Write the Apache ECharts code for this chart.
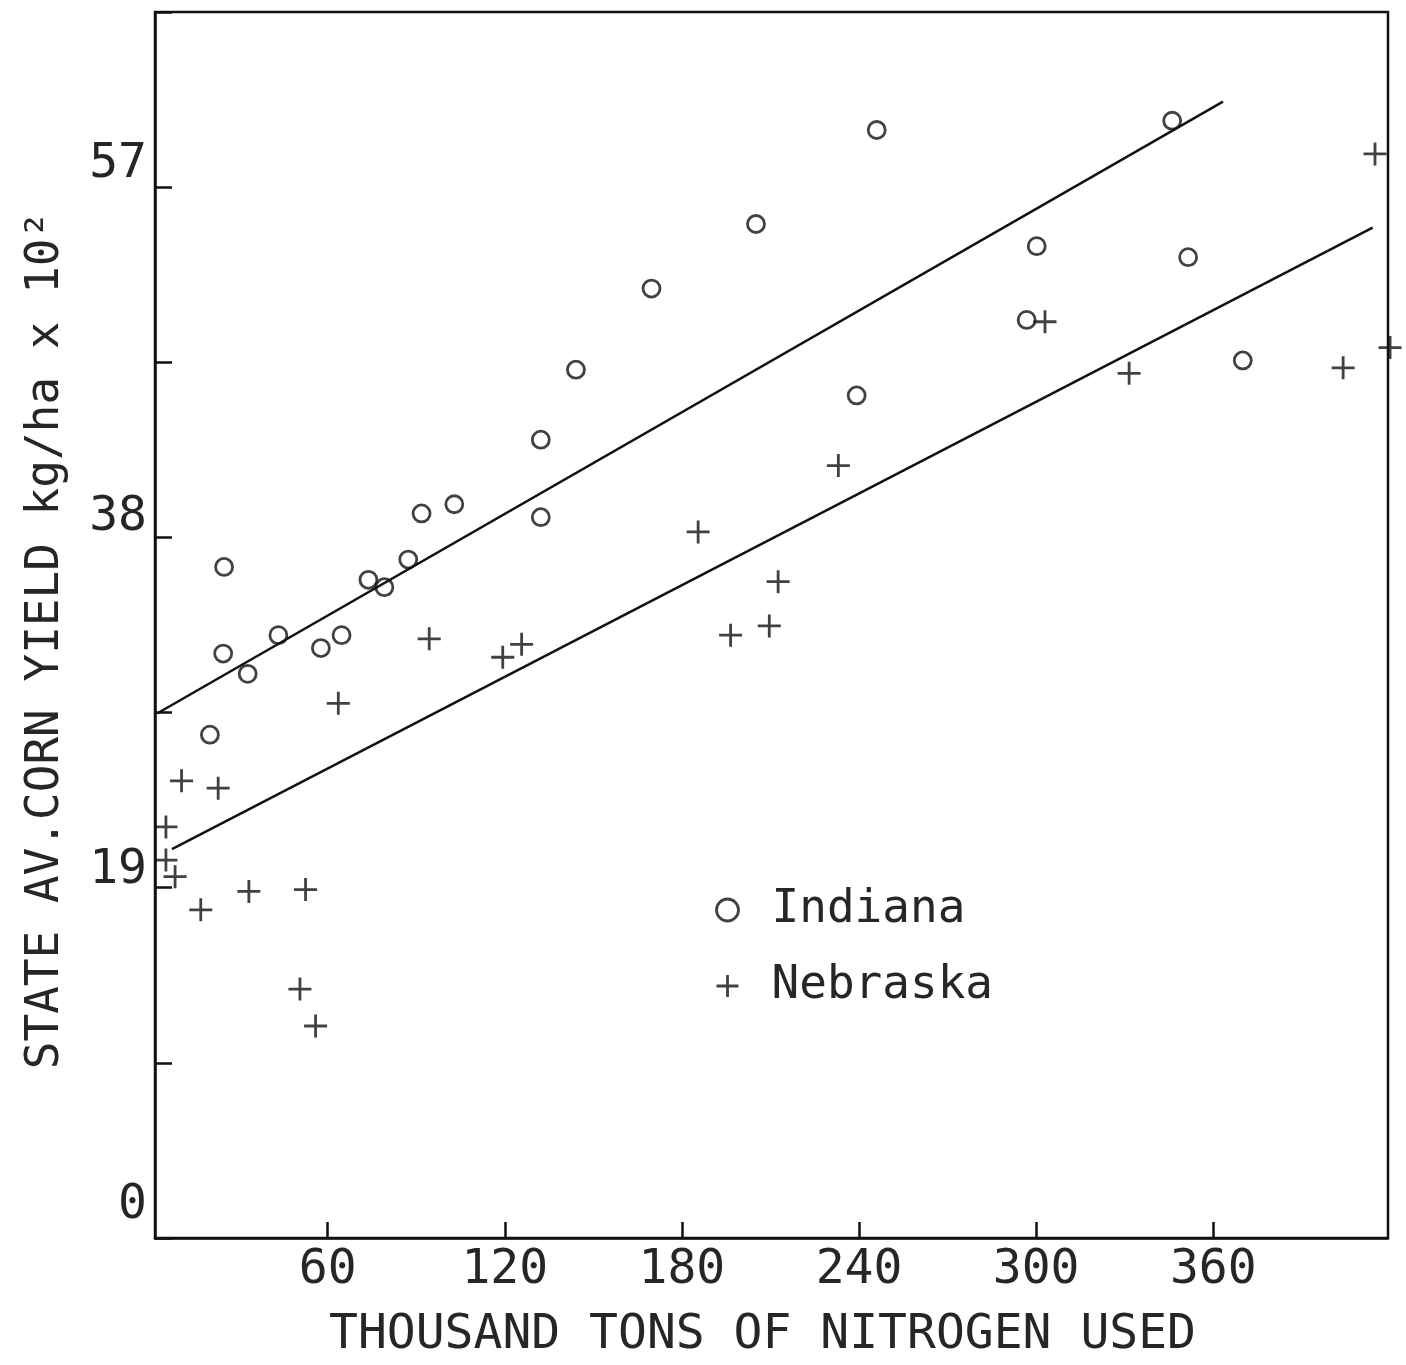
<!DOCTYPE html>
<html>
<head>
<meta charset="utf-8">
<title>Corn yield vs nitrogen used</title>
<script src="https://cdn.jsdelivr.net/npm/echarts@6/dist/echarts.min.js"></script>
<style>
  html, body { margin: 0; padding: 0; background: #fff; }
  #chart { width: 1406px; height: 1365px; }
</style>
</head>
<body>
<div id="chart"></div>
<script>
// Indiana: nitrogen used (thousand tons) and state average corn yield (kg/ha x 10^2)
const indianaNitrogen = [20.1, 24.9, 24.6, 32.9, 43.3, 57.7, 64.7, 73.8, 79.2, 87.3, 91.8, 102.9,
  132.2, 132.2, 144.1, 169.7, 205.1, 239.2, 246.0, 296.8, 300.2, 346.1, 351.5, 370.0];
const indianaYield = [27.3, 36.4, 31.7, 30.6, 32.7, 32.0, 32.7, 35.7, 35.3, 36.8, 39.3, 39.8,
  43.3, 39.1, 47.1, 51.5, 55.0, 45.7, 60.1, 49.8, 53.8, 60.6, 53.2, 47.6];

// Nebraska
const nebraskaNitrogen = [5.2, 5.2, 8.3, 10.5, 22.9, 17.0, 33.3, 52.5, 50.6, 55.9, 63.6, 94.4,
  119.3, 125.7, 185.5, 196.5, 209.6, 212.6, 233.0, 303.0, 331.5, 404.0, 414.8, 419.9];
const nebraskaYield = [22.3, 20.5, 19.6, 24.8, 24.4, 17.8, 18.8, 18.9, 13.5, 11.5, 29.0, 32.5,
  31.5, 32.2, 38.3, 32.7, 33.2, 35.6, 41.9, 49.7, 46.9, 47.2, 58.8, 48.3];

// Fitted regression lines (end points)
const indianaTrendX = [2.2, 363.3];
const indianaTrendY = [28.45, 61.64];
const nebraskaTrendX = [7.25, 414.0];
const nebraskaTrendY = [21.09, 54.80];

// Axis tick labels
const xTickValues = [60, 120, 180, 240, 300, 360];
const yLabelValues = [0, 19, 38, 57];

const INK = '#111';
const TEXT = '#262626';
const FONT = '"DejaVu Sans Mono", "Liberation Mono", monospace';
const CROSS = 'path://M10,0 L10,20 M0,10 L20,10';

const pairs = (xs, ys) => xs.map((x, i) => [x, ys[i]]);

const chart = echarts.init(document.getElementById('chart'), null, { renderer: 'canvas' });

chart.setOption({
  animation: false,
  backgroundColor: '#fff',
  grid: {
    left: 155, right: 18, top: 12, bottom: 127,
    show: true, borderColor: INK, borderWidth: 2.5, backgroundColor: 'transparent'
  },
  legend: {
    orient: 'vertical',
    left: 709, top: 882,
    itemWidth: 22, itemHeight: 22, itemGap: 30,
    selectedMode: false,
    textStyle: { fontFamily: FONT, fontSize: 46, color: TEXT, padding: [0, 0, 0, 28] },
    data: [
      { name: 'Indiana', icon: 'circle',
        itemStyle: { color: '#fff', borderColor: INK, borderWidth: 2.8 } },
      { name: 'Nebraska', icon: CROSS,
        itemStyle: { color: 'none', borderColor: INK, borderWidth: 2.8 } }
    ]
  },
  xAxis: {
    type: 'value',
    min: 1.5, max: 419.2,
    name: 'THOUSAND TONS OF NITROGEN USED',
    nameLocation: 'middle',
    nameGap: 74,
    nameTextStyle: { fontFamily: FONT, fontSize: 48, color: TEXT, padding: [0, 18, 0, 0] },
    axisLine: { show: true, lineStyle: { color: INK, width: 2.5 } },
    axisTick: { show: true, inside: true, length: 16, customValues: xTickValues,
      lineStyle: { color: INK, width: 2.5 } },
    axisLabel: { customValues: xTickValues, margin: 9,
      fontFamily: FONT, fontSize: 48, color: TEXT },
    splitLine: { show: false }
  },
  yAxis: {
    type: 'value',
    min: 0, max: 66.5, interval: 9.5,
    name: 'STATE AV.CORN YIELD kg/ha x 10²',
    nameLocation: 'middle',
    nameGap: 86,
    nameTextStyle: { fontFamily: FONT, fontSize: 46, color: TEXT, padding: [0, 30, 0, 0] },
    axisLine: { show: true, lineStyle: { color: INK, width: 2.5 } },
    axisTick: { show: true, inside: true, length: 17, lineStyle: { color: INK, width: 2.5 } },
    axisLabel: {
      margin: 8,
      fontFamily: FONT, fontSize: 48, color: TEXT,
      formatter: v => {
        const r = Math.round(v * 10) / 10;
        return yLabelValues.includes(r) ? `{l${r}|${r}}` : '';
      },
      rich: {
        l0: { fontFamily: FONT, fontSize: 48, color: TEXT, padding: [0, 0, 64, 0] },
        l19: { fontFamily: FONT, fontSize: 48, color: TEXT, padding: [0, 0, 34, 0] },
        l38: { fontFamily: FONT, fontSize: 48, color: TEXT, padding: [0, 0, 40, 0] },
        l57: { fontFamily: FONT, fontSize: 48, color: TEXT, padding: [0, 0, 46, 0] }
      }
    },
    splitLine: { show: false }
  },
  series: [
    {
      name: 'Indiana', type: 'scatter', clip: false,
      symbol: 'circle', symbolSize: 17,
      itemStyle: { color: '#fff', borderColor: INK, borderWidth: 2.8 },
      emphasis: { disabled: true },
      data: pairs(indianaNitrogen, indianaYield)
    },
    {
      name: 'Nebraska', type: 'scatter', clip: false,
      symbol: CROSS, symbolSize: 23,
      itemStyle: { color: 'none', borderColor: INK, borderWidth: 2.8 },
      emphasis: { disabled: true },
      data: pairs(nebraskaNitrogen, nebraskaYield)
    },
    {
      name: 'Indiana fit', type: 'line', symbol: 'none', silent: true,
      lineStyle: { color: INK, width: 2.5 },
      data: pairs(indianaTrendX, indianaTrendY)
    },
    {
      name: 'Nebraska fit', type: 'line', symbol: 'none', silent: true,
      lineStyle: { color: INK, width: 2.5 },
      data: pairs(nebraskaTrendX, nebraskaTrendY)
    }
  ]
});
</script>
</body>
</html>
